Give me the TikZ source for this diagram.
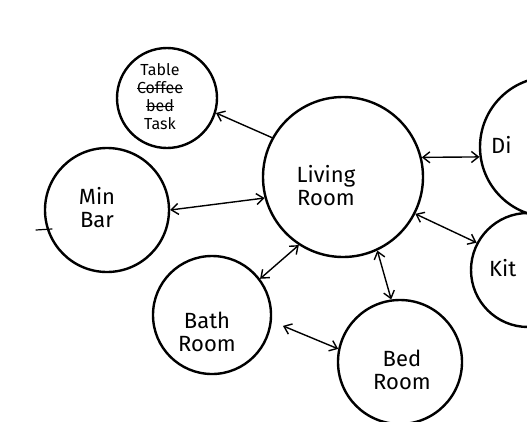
\documentclass[tikz,border=0pt]{standalone}
\usepackage{fontspec}
\setmainfont{Fira Sans}
\usetikzlibrary{arrows.meta}
\newcommand\strk[1]{\setbox0\hbox{#1}\rlap{\rule[0.3em]{\wd0}{1.2pt}}\box0}
\begin{document}
\begin{tikzpicture}[x=1pt,y=-1pt,line join=round,line cap=round,>={Straight Barb[length=7pt,width=11pt]},line width=2.4pt,
	room/.style={draw,circle,inner sep=0pt},
	txt/.style={align=center,inner sep=0pt,font=\fontsize{22}{23}\selectfont},
	link/.style={<->,line width=1.4pt}]
	\useasboundingbox (0,0) rectangle (527,421);
	\clip (0,0) rectangle (527,421);
	%%% rooms
	\node[room,minimum size=160pt] (living) at (343,177) {};
	\node[room,minimum size=100pt] (table) at (167,98) {};
	\node[room,minimum size=124pt] (minbar) at (107,210) {};
	\node[room,minimum size=118pt] (bath) at (212,315) {};
	\node[room,minimum size=124pt] (bed) at (400,362) {};
	\node[room,minimum size=140pt] (dining) at (550,147) {};
	\node[room,minimum size=114pt] (kitchen) at (528,270) {};
	%%% texts
	\node[txt] (living-t) at (326,186) {Living\\Room};
	\node[txt,font=\fontsize{16}{18}\selectfont] (table-t) at (160,97) {Table\\\strk{Coffee}\\\strk{bed}\\Task};
	\node[txt] (minbar-t) at (97,208) {Min\\Bar};
	\node[txt] (bath-t) at (207,332) {Bath\\Room};
	\node[txt] (bed-t) at (402,370) {Bed\\Room};
	\node[txt,anchor=west] (dining-t) at (490,145) {Di};
	\node[txt,anchor=west] (kitchen-t) at (488,268) {Kit};
	\draw[line width=1.2pt] (36,230)--(52,229); %%% tick
	%%% arrows
	\draw[->,line width=1.4pt] (living.151)--(table.-17);
	\draw[link] (living.195)--(minbar.east);
	\draw[link] (living.14)--(dining.188);
	\draw[link] (living.-27)--(kitchen.152);
	\draw[link] (living.-123)--(bath.37);
	\draw[link] (living.-65)--(bed.98);
	\draw[link,shorten <=12pt] (bath.-6)--(bed.168);
\end{tikzpicture}
\end{document}
